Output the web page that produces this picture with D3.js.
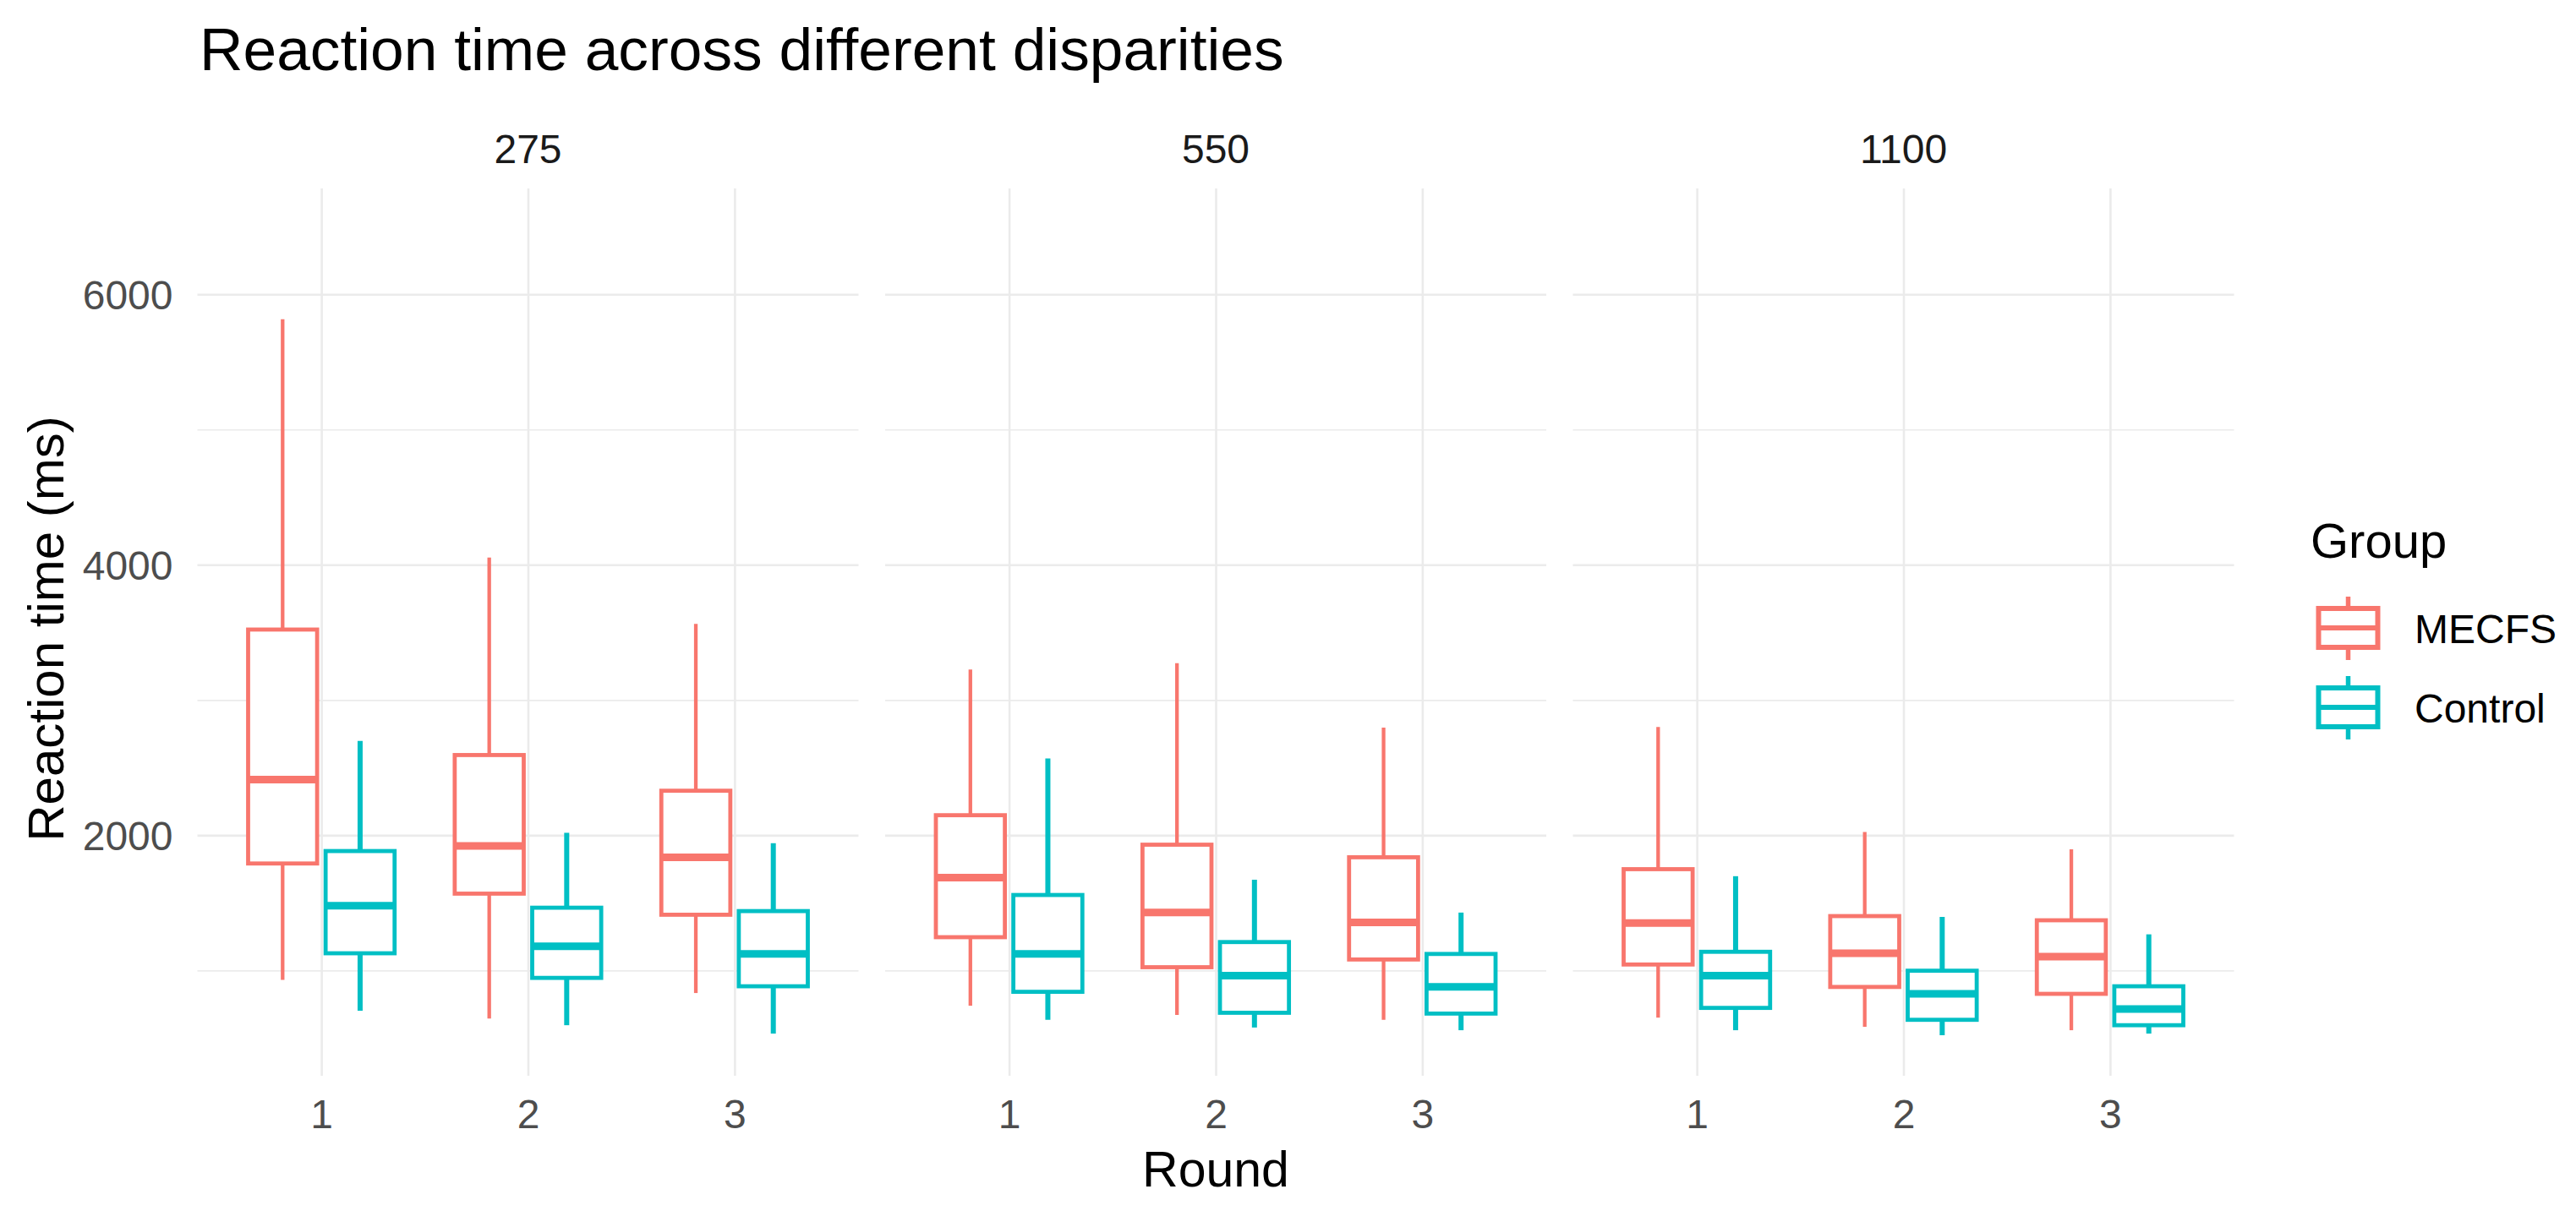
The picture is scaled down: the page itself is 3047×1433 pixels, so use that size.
<!DOCTYPE html>
<html>
<head>
<meta charset="utf-8">
<script src="https://cdn.jsdelivr.net/npm/d3@7"></script>
<style>
  body { margin: 0; background: #fff; }
  text { font-family: "Liberation Sans", Arial, sans-serif; }
</style>
</head>
<body>
<svg id="chart" width="3047" height="1433"></svg>
<script>
// facets, rounds and groups
const disparities = ["275", "550", "1100"];
const rounds = [1, 2, 3];
const groups = ["MECFS", "Control"];
const groupColors = ["#F8766D", "#00BFC4"];

// box stats per disparity, per round: [min, q1, median, q3, max]
const mecfsStats = [
  [[930, 1791, 2412, 3521, 5816], [645, 1568, 1921, 2593, 4054], [833, 1412, 1837, 2329, 3563]],
  [[739, 1246, 1687, 2148, 3226], [671, 1024, 1428, 1930, 3272], [635, 1081, 1355, 1837, 2796]],
  [[651, 1044, 1350, 1749, 2801], [583, 878, 1127, 1402, 2024], [558, 827, 1102, 1371, 1896]]
];
const controlStats = [
  [[702, 1127, 1479, 1883, 2697], [595, 945, 1179, 1464, 2018], [533, 883, 1122, 1439, 1941]],
  [[635, 842, 1122, 1558, 2568], [578, 687, 961, 1210, 1671], [558, 681, 878, 1122, 1428]],
  [[558, 723, 961, 1138, 1697], [521, 635, 827, 998, 1396], [533, 595, 714, 883, 1267]]
];

const yMajor = [2000, 4000, 6000];
const yMinor = [1000, 3000, 5000];

const svg = d3.select("#chart");

const panelTop = 223, panelBottom = 1273;
const panelLeft = 233.5, panelW = 782, panelGap = 31.5;

const y = d3.scaleLinear().domain([221, 6783]).range([panelBottom, panelTop]);

const allStats = [mecfsStats, controlStats];
const dodge = [-0.1875, 0.1875];
const halfW = 0.167;
const whiskerW = [4.3, 6];

disparities.forEach(function(disp, p) {
  let x0 = panelLeft + p * (panelW + panelGap);
  let x = d3.scaleLinear().domain([0.4, 3.6]).range([x0, x0 + panelW]);
  let g = svg.append("g");

  // minor grid
  g.append("g")
    .attr("transform", "translate(" + x0 + ",0)")
    .call(d3.axisLeft(y).tickValues(yMinor).tickSize(-panelW).tickFormat(""))
    .call(s => s.select(".domain").remove())
    .selectAll("line").attr("stroke", "#EBEBEB").attr("stroke-width", 1.6);

  // major grid
  g.append("g")
    .attr("transform", "translate(" + x0 + ",0)")
    .call(d3.axisLeft(y).tickValues(yMajor).tickSize(-panelW).tickFormat(""))
    .call(s => s.select(".domain").remove())
    .selectAll("line").attr("stroke", "#EBEBEB").attr("stroke-width", 2.6);

  // vertical grid + x tick labels
  let xa = g.append("g")
    .attr("transform", "translate(0," + panelBottom + ")")
    .call(d3.axisBottom(x).tickValues(rounds).tickSize(-(panelBottom - panelTop)).tickPadding(29).tickFormat(d3.format("d")));
  xa.select(".domain").remove();
  xa.selectAll("line").attr("stroke", "#EBEBEB").attr("stroke-width", 2.6);
  xa.selectAll("text")
    .attr("fill", "#4D4D4D")
    .style("font-size", "48px")
    .attr("dy", null)
    .attr("y", 62);

  // y tick labels only on first panel
  if (p == 0) {
    let ya = g.append("g")
      .attr("transform", "translate(" + x0 + ",0)")
      .call(d3.axisLeft(y).tickValues(yMajor).tickSize(0).tickPadding(29).tickFormat(d3.format("d")));
    ya.select(".domain").remove();
    ya.selectAll("text")
      .attr("fill", "#4D4D4D")
      .style("font-size", "48px")
      .attr("dy", "0.36em");
  }

  // strip label
  g.append("text")
    .attr("x", x0 + panelW / 2)
    .attr("y", 192.5)
    .attr("text-anchor", "middle")
    .attr("fill", "#1A1A1A")
    .style("font-size", "48px")
    .text(disp);

  // boxes
  groups.forEach(function(grp, gi) {
    rounds.forEach(function(r, ri) {
      let st = allStats[gi][p][ri];
      let cx = r + dodge[gi];
      let col = groupColors[gi];
      let bx = g.append("g");
      bx.append("line")
        .attr("x1", x(cx)).attr("x2", x(cx))
        .attr("y1", y(st[3])).attr("y2", y(st[4]))
        .attr("stroke", col).attr("stroke-width", whiskerW[gi]);
      bx.append("line")
        .attr("x1", x(cx)).attr("x2", x(cx))
        .attr("y1", y(st[1])).attr("y2", y(st[0]))
        .attr("stroke", col).attr("stroke-width", whiskerW[gi]);
      bx.append("rect")
        .attr("x", x(cx - halfW))
        .attr("width", x(cx + halfW) - x(cx - halfW))
        .attr("y", y(st[3]))
        .attr("height", y(st[1]) - y(st[3]))
        .attr("fill", "#fff")
        .attr("stroke", col).attr("stroke-width", 4.8);
      bx.append("line")
        .attr("x1", x(cx - halfW)).attr("x2", x(cx + halfW))
        .attr("y1", y(st[2])).attr("y2", y(st[2]))
        .attr("stroke", col).attr("stroke-width", 9);
    });
  });
});

// axis titles
svg.append("text")
  .attr("x", panelLeft + 1.5 * panelW + panelGap)
  .attr("y", 1404)
  .attr("text-anchor", "middle")
  .attr("fill", "#000")
  .style("font-size", "59px")
  .text("Round");

svg.append("text")
  .attr("transform", "translate(75," + ((panelTop + panelBottom) / 2 - 4) + ") rotate(-90)")
  .attr("text-anchor", "middle")
  .attr("fill", "#000")
  .style("font-size", "60px")
  .text("Reaction time (ms)");

// title
svg.append("text")
  .attr("x", 236)
  .attr("y", 83)
  .attr("fill", "#000")
  .style("font-size", "71.3px")
  .text("Reaction time across different disparities");

// legend
let leg = svg.append("g");
leg.append("text")
  .attr("x", 2733)
  .attr("y", 660)
  .attr("fill", "#000")
  .style("font-size", "58px")
  .text("Group");

const keyCy = [743, 837];
groups.forEach(function(grp, gi) {
  let cy = keyCy[gi];
  let col = groupColors[gi];
  leg.append("line")
    .attr("x1", 2777.5).attr("x2", 2777.5)
    .attr("y1", cy - 37).attr("y2", cy + 38)
    .attr("stroke", col).attr("stroke-width", 5.5);
  leg.append("rect")
    .attr("x", 2742.5).attr("width", 70)
    .attr("y", cy - 23).attr("height", 46)
    .attr("fill", "#fff")
    .attr("stroke", col).attr("stroke-width", 6);
  leg.append("line")
    .attr("x1", 2742.5).attr("x2", 2812.5)
    .attr("y1", cy).attr("y2", cy)
    .attr("stroke", col).attr("stroke-width", 6);
  leg.append("text")
    .attr("x", 2856)
    .attr("y", cy + 17.5)
    .attr("fill", "#000")
    .style("font-size", "48px")
    .text(grp);
});
</script>
</body>
</html>
